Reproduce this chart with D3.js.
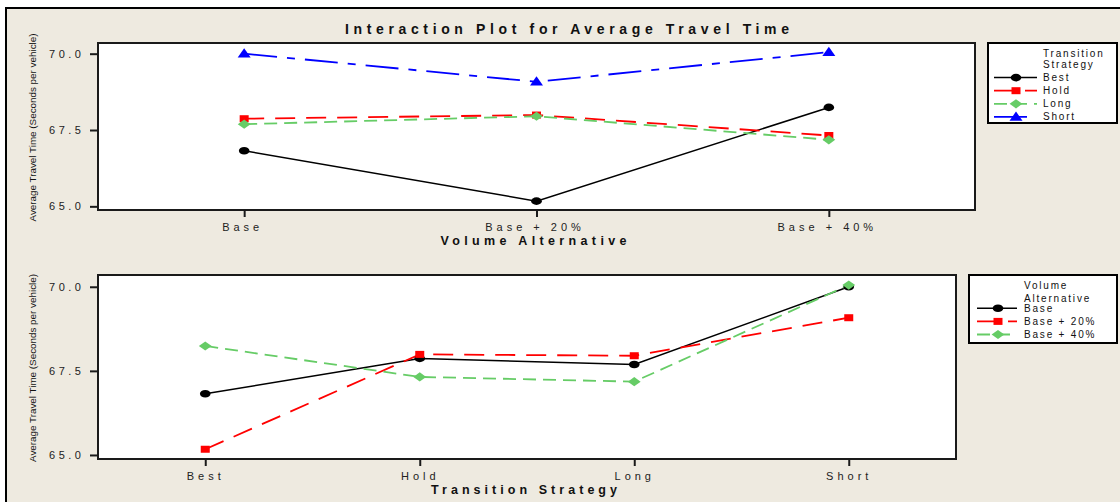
<!DOCTYPE html>
<html>
<head>
<meta charset="utf-8">
<script src="https://cdn.jsdelivr.net/npm/d3@7"></script>
<style>
  html, body { margin: 0; padding: 0; background: #ffffff; }
  svg { display: block; font-family: "Liberation Sans", Arial, sans-serif; }
</style>
</head>
<body>
<svg id="chart" width="1120" height="502"></svg>
<script>
// Factor levels
const volumeLevels = ["Base", "Base + 20%", "Base + 40%"];
const strategyLevels = ["Best", "Hold", "Long", "Short"];

// Mean average travel time (seconds per vehicle) for each transition strategy,
// one value per volume level (Base, Base + 20%, Base + 40%)
const bestMeans  = [66.82, 65.17, 68.24];
const holdMeans  = [67.87, 67.99, 67.32];
const longMeans  = [67.69, 67.95, 67.18];
const shortMeans = [70.00, 69.08, 70.05];

// Shared response axis
const yTicks = [65.0, 67.5, 70.0];
const yDomain = [64.88, 70.35];

const chartTitle = "Interaction Plot for Average Travel Time";
const yTitle = "Average Travel Time (Seconds per vehicle)";

// ---------------------------------------------------------------------------
const W = 1120, H = 502;
const svg = d3.select("#chart");

// Page frame
svg.append("rect")
  .attr("x", 6).attr("y", 8).attr("width", W + 20).attr("height", H + 20)
  .attr("fill", "#eeeae0").attr("stroke", "#000").attr("stroke-width", 2);

svg.append("text")
  .attr("x", 345).attr("y", 34)
  .attr("textLength", 444).attr("lengthAdjust", "spacing")
  .attr("font-size", 14).attr("font-weight", "bold").attr("fill", "#111")
  .text(chartTitle);

// Line/marker appearance for each series
const styles = {
  black: { color: "#000000", dash: null,          shape: "circle",   width: 1.5 },
  red:   { color: "#ff0000", dash: "20,11",       shape: "square",   width: 1.8 },
  green: { color: "#66cc66", dash: "13,7",        shape: "diamond",  width: 1.8 },
  blue:  { color: "#0000ff", dash: "33,10,8,10",  shape: "triangle", width: 1.8 }
};

function drawMarker(g, shape, color, cx, cy) {
  if (shape === "circle") {
    g.append("ellipse").attr("cx", cx).attr("cy", cy).attr("rx", 5.3).attr("ry", 3.8).attr("fill", color);
  } else if (shape === "square") {
    g.append("rect").attr("x", cx - 4.5).attr("y", cy - 3.5).attr("width", 9).attr("height", 7).attr("fill", color);
  } else if (shape === "diamond") {
    g.append("path")
      .attr("d", `M${cx},${cy - 4.6}L${cx + 6.4},${cy}L${cx},${cy + 4.6}L${cx - 6.4},${cy}Z`)
      .attr("fill", color);
  } else if (shape === "triangle") {
    g.append("path")
      .attr("d", `M${cx},${cy - 5.5}L${cx + 6.5},${cy + 3.8}L${cx - 6.5},${cy + 3.8}Z`)
      .attr("fill", color);
  }
}

function drawPanel(cfg) {
  const b = cfg.box;
  const g = svg.append("g");

  const x = d3.scalePoint().domain(cfg.levels).range([b.left, b.right]).padding(0.5);
  const y = d3.scaleLinear().domain(yDomain).range([b.bottom, b.top]);

  // plotting area
  g.append("rect")
    .attr("x", b.left).attr("y", b.top)
    .attr("width", b.right - b.left).attr("height", b.bottom - b.top)
    .attr("fill", "#ffffff");

  // series lines
  const line = d3.line()
    .x((d, i) => x(cfg.levels[i]))
    .y(d => y(d));

  cfg.series.forEach(s => {
    g.append("path")
      .datum(s.values)
      .attr("d", line)
      .attr("fill", "none")
      .attr("stroke", s.style.color)
      .attr("stroke-width", s.style.width)
      .attr("stroke-dasharray", s.style.dash);
  });
  cfg.series.forEach(s => {
    s.values.forEach((v, i) => drawMarker(g, s.style.shape, s.style.color, x(cfg.levels[i]), y(v)));
  });

  // frame
  g.append("rect")
    .attr("x", b.left).attr("y", b.top)
    .attr("width", b.right - b.left).attr("height", b.bottom - b.top)
    .attr("fill", "none").attr("stroke", "#1a1a1a").attr("stroke-width", 2);

  // y axis
  const yAxis = g.append("g")
    .attr("transform", `translate(${b.left},0)`)
    .call(d3.axisLeft(y).tickValues(yTicks).tickFormat(d3.format(".1f"))
      .tickSize(8).tickSizeOuter(0).tickPadding(5.5));
  yAxis.select(".domain").remove();
  yAxis.selectAll(".tick line").attr("stroke", "#1a1a1a").attr("stroke-width", 2);
  yAxis.selectAll(".tick text")
    .attr("font-family", "'Liberation Sans', Arial, sans-serif")
    .attr("font-size", 11).attr("letter-spacing", "3.5px").attr("fill", "#222");

  // x axis
  const xAxis = g.append("g")
    .attr("transform", `translate(0,${b.bottom})`)
    .call(d3.axisBottom(x).tickSize(7).tickSizeOuter(0).tickPadding(6.5));
  xAxis.select(".domain").remove();
  xAxis.selectAll(".tick line").attr("stroke", "#1a1a1a").attr("stroke-width", 2);
  xAxis.selectAll(".tick text")
    .attr("font-family", "'Liberation Sans', Arial, sans-serif")
    .attr("font-size", 11).attr("letter-spacing", "4px").attr("fill", "#222")
    .attr("dx", cfg.tickDx);

  // axis titles
  const xc = (b.left + b.right) / 2 - 3;
  g.append("text")
    .attr("x", xc - cfg.xTitleLen / 2).attr("y", b.bottom + 34.5)
    .attr("textLength", cfg.xTitleLen).attr("lengthAdjust", "spacing")
    .attr("font-size", 12.5).attr("font-weight", "bold").attr("fill", "#111")
    .text(cfg.xTitle);

  g.append("text")
    .attr("transform", `translate(36,${(b.top + b.bottom) / 2 + 1}) rotate(-90)`)
    .attr("text-anchor", "middle")
    .attr("textLength", 188).attr("lengthAdjust", "spacingAndGlyphs")
    .attr("font-size", 9.5).attr("fill", "#111")
    .text(yTitle);

  // legend
  const L = cfg.legend;
  const lg = svg.append("g");
  lg.append("rect")
    .attr("x", L.x0).attr("y", L.y0).attr("width", L.x1 - L.x0).attr("height", L.y1 - L.y0)
    .attr("fill", "#ffffff").attr("stroke", "#000").attr("stroke-width", 2);
  L.titleLines.forEach((t, i) => {
    lg.append("text")
      .attr("x", L.textX).attr("y", L.titleBaselines[i])
      .attr("font-size", 10).attr("letter-spacing", "1.8px").attr("fill", "#111")
      .text(t);
  });
  cfg.series.forEach((s, i) => {
    const by = L.firstRow + i * L.rowGap;
    const ly = by - 3.2;
    lg.append("line")
      .attr("x1", L.lineX0).attr("x2", L.lineX1).attr("y1", ly).attr("y2", ly)
      .attr("stroke", s.style.color).attr("stroke-width", s.style.width)
      .attr("stroke-dasharray", s.style.dash);
    drawMarker(lg, s.style.shape, s.style.color, L.markerX, ly);
    lg.append("text")
      .attr("x", L.textX).attr("y", by)
      .attr("font-size", 10).attr("letter-spacing", "1.8px").attr("fill", "#111")
      .text(s.name);
  });
}

// Upper panel: response by volume, one line per transition strategy
drawPanel({
  box: { left: 98, right: 975, top: 43, bottom: 210 },
  levels: volumeLevels,
  tickDx: -2,
  xTitle: "Volume Alternative",
  xTitleLen: 186,
  series: [
    { name: strategyLevels[0], values: bestMeans,  style: styles.black },
    { name: strategyLevels[1], values: holdMeans,  style: styles.red },
    { name: strategyLevels[2], values: longMeans,  style: styles.green },
    { name: strategyLevels[3], values: shortMeans, style: styles.blue }
  ],
  legend: {
    x0: 988, y0: 43, x1: 1117, y1: 123,
    titleLines: ["Transition", "Strategy"], titleBaselines: [56.7, 68],
    textX: 1043, lineX0: 994, lineX1: 1037, markerX: 1016,
    firstRow: 80.8, rowGap: 13.1
  }
});

// Lower panel: response by strategy, one line per volume level
const byVolume = volumeLevels.map((v, i) => [bestMeans[i], holdMeans[i], longMeans[i], shortMeans[i]]);
drawPanel({
  box: { left: 98, right: 956, top: 275, bottom: 459 },
  levels: strategyLevels,
  tickDx: 0,
  xTitle: "Transition Strategy",
  xTitleLen: 186,
  series: [
    { name: volumeLevels[0], values: byVolume[0], style: styles.black },
    { name: volumeLevels[1], values: byVolume[1], style: styles.red },
    { name: volumeLevels[2], values: byVolume[2], style: styles.green }
  ],
  legend: {
    x0: 969, y0: 275, x1: 1117, y1: 343,
    titleLines: ["Volume", "Alternative"], titleBaselines: [288.7, 301.5],
    textX: 1024, lineX0: 977, lineX1: 1017, markerX: 998,
    firstRow: 311.5, rowGap: 13.1
  }
});
</script>
</body>
</html>
